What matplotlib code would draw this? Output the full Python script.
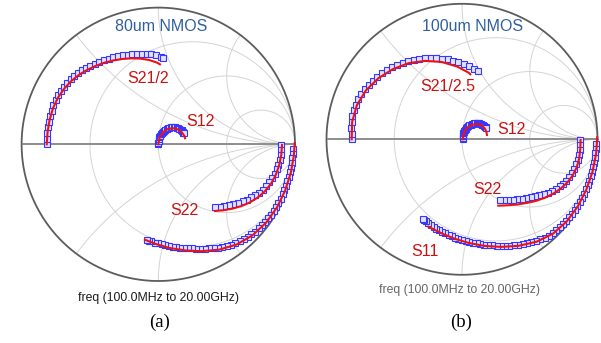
import numpy as np
import matplotlib.pyplot as plt

plt.rcParams['font.family'] = ['Liberation Sans', 'DejaVu Sans']

# ---- (a) 80um NMOS : reflection plane values (real, imag), meas = blue squares, model = red line
a_s21_meas_re = [-0.816, -0.815, -0.812, -0.807, -0.800, -0.792, -0.781, -0.768, -0.752, -0.733,
                 -0.712, -0.690, -0.666, -0.641, -0.614, -0.586, -0.557, -0.527, -0.496, -0.464,
                 -0.431, -0.398, -0.364, -0.330, -0.295, -0.260, -0.225, -0.190, -0.155, -0.120,
                 -0.085, -0.050, -0.016, 0.018, 0.037]
a_s21_meas_im = [0.000, 0.040, 0.082, 0.124, 0.166, 0.207, 0.247, 0.286, 0.323, 0.358,
                 0.391, 0.422, 0.450, 0.476, 0.500, 0.522, 0.542, 0.560, 0.576, 0.591,
                 0.604, 0.616, 0.626, 0.635, 0.643, 0.650, 0.655, 0.659, 0.662, 0.663,
                 0.662, 0.658, 0.651, 0.640, 0.630]
a_s21_model_re = [-0.816, -0.810, -0.795, -0.770, -0.735, -0.690, -0.640, -0.585, -0.525,
                  -0.462, -0.398, -0.332, -0.265, -0.198, -0.132, -0.068, -0.010, 0.012]
a_s21_model_im = [0.000, 0.090, 0.180, 0.265, 0.340, 0.405, 0.460, 0.505, 0.542,
                  0.572, 0.596, 0.613, 0.624, 0.629, 0.627, 0.617, 0.598, 0.585]

a_s12_meas_re = [0.000, 0.000, 0.002, 0.004, 0.008, 0.012, 0.018, 0.025, 0.032, 0.041,
                 0.050, 0.060, 0.070, 0.081, 0.092, 0.103, 0.114, 0.125, 0.135, 0.145,
                 0.155, 0.163, 0.170, 0.176, 0.180, 0.183, 0.185]
a_s12_meas_im = [0.000, 0.012, 0.025, 0.038, 0.050, 0.061, 0.072, 0.082, 0.092, 0.100,
                 0.107, 0.113, 0.117, 0.121, 0.123, 0.124, 0.124, 0.123, 0.121, 0.117,
                 0.113, 0.108, 0.102, 0.096, 0.090, 0.085, 0.080]
a_s12_model_re = [0.000, 0.010, 0.035, 0.070, 0.110, 0.145, 0.172, 0.190, 0.196]
a_s12_model_im = [0.000, 0.050, 0.090, 0.112, 0.118, 0.108, 0.088, 0.062, 0.044]

a_s22_meas_re = [0.900, 0.898, 0.894, 0.888, 0.879, 0.867, 0.852, 0.834, 0.813, 0.790,
                 0.765, 0.738, 0.709, 0.679, 0.648, 0.616, 0.583, 0.550, 0.516, 0.482,
                 0.448, 0.414]
a_s22_meas_im = [-0.005, -0.040, -0.076, -0.112, -0.148, -0.183, -0.217, -0.249, -0.279, -0.306,
                 -0.331, -0.353, -0.372, -0.389, -0.404, -0.417, -0.428, -0.437, -0.445, -0.451,
                 -0.456, -0.460]
a_s22_model_re = [0.905, 0.900, 0.885, 0.860, 0.825, 0.780, 0.728, 0.670, 0.608, 0.545, 0.480, 0.415]
a_s22_model_im = [-0.005, -0.075, -0.150, -0.222, -0.288, -0.343, -0.389, -0.425, -0.452, -0.470,
                  -0.482, -0.488]

a_s11_meas_re = [0.984, 0.983, 0.980, 0.975, 0.969, 0.962, 0.954, 0.944, 0.934, 0.922,
                 0.909, 0.894, 0.878, 0.861, 0.843, 0.823, 0.802, 0.780, 0.757, 0.733,
                 0.708, 0.681, 0.653, 0.624, 0.595, 0.564, 0.533, 0.501, 0.469, 0.436,
                 0.404, 0.372, 0.340, 0.308, 0.278, 0.248, 0.218, 0.189, 0.161, 0.133,
                 0.105, 0.078, 0.052, 0.026, 0.000, -0.025, -0.050, -0.068, -0.086]
a_s11_meas_im = [-0.034, -0.069, -0.103, -0.137, -0.171, -0.204, -0.238, -0.271, -0.303, -0.336,
                 -0.367, -0.398, -0.428, -0.458, -0.487, -0.514, -0.541, -0.567, -0.592, -0.615,
                 -0.638, -0.658, -0.676, -0.693, -0.709, -0.721, -0.733, -0.742, -0.750, -0.756,
                 -0.759, -0.762, -0.763, -0.764, -0.763, -0.762, -0.759, -0.758, -0.755, -0.752,
                 -0.748, -0.743, -0.737, -0.732, -0.725, -0.719, -0.711, -0.706, -0.700]
a_s11_model_re = [0.998, 0.991, 0.970, 0.928, 0.868, 0.789, 0.689, 0.573, 0.445, 0.316,
                  0.194, 0.080, -0.025, -0.098]
a_s11_model_im = [0.009, -0.087, -0.206, -0.338, -0.462, -0.573, -0.666, -0.733, -0.771, -0.782,
                  -0.776, -0.758, -0.727, -0.698]

# ---- (b) 100um NMOS
b_s21_meas_re = [-0.814, -0.815, -0.817, -0.815, -0.810, -0.799, -0.784, -0.765, -0.743, -0.717,
                 -0.689, -0.658, -0.625, -0.591, -0.554, -0.517, -0.478, -0.438, -0.398, -0.357,
                 -0.315, -0.274, -0.232, -0.190, -0.148, -0.107, -0.066, -0.026, 0.014, 0.053,
                 0.090, 0.117]
b_s21_meas_im = [0.000, 0.042, 0.085, 0.128, 0.172, 0.214, 0.255, 0.294, 0.332, 0.368,
                 0.401, 0.432, 0.460, 0.486, 0.509, 0.530, 0.547, 0.563, 0.575, 0.585,
                 0.592, 0.597, 0.599, 0.598, 0.595, 0.589, 0.580, 0.570, 0.556, 0.540,
                 0.521, 0.506]
b_s21_model_re = [-0.814, -0.811, -0.776, -0.709, -0.617, -0.510, -0.394, -0.272, -0.151,
                  -0.036, 0.050, 0.061]
b_s21_model_im = [0.000, 0.128, 0.252, 0.361, 0.451, 0.518, 0.562, 0.579, 0.571,
                  0.537, 0.491, 0.480]

b_s12_meas_re = [0.005, 0.005, 0.006, 0.008, 0.010, 0.013, 0.017, 0.022, 0.027, 0.033,
                 0.040, 0.047, 0.055, 0.063, 0.072, 0.081, 0.090, 0.099, 0.108, 0.117,
                 0.126, 0.135, 0.143, 0.151, 0.158, 0.164, 0.170, 0.175, 0.180]
b_s12_meas_im = [0.000, 0.011, 0.022, 0.033, 0.043, 0.053, 0.062, 0.071, 0.079, 0.086,
                 0.093, 0.099, 0.104, 0.108, 0.112, 0.115, 0.117, 0.118, 0.119, 0.118,
                 0.117, 0.115, 0.112, 0.108, 0.104, 0.099, 0.094, 0.089, 0.083]
b_s12_model_re = [0.005, 0.015, 0.040, 0.075, 0.112, 0.145, 0.168, 0.180, 0.184]
b_s12_model_im = [0.000, 0.050, 0.088, 0.108, 0.112, 0.102, 0.080, 0.055, 0.032]

b_s22_meas_re = [0.872, 0.871, 0.868, 0.863, 0.855, 0.844, 0.830, 0.813, 0.793, 0.771,
                 0.747, 0.721, 0.693, 0.664, 0.634, 0.603, 0.571, 0.539, 0.506, 0.473,
                 0.440, 0.407, 0.374, 0.341, 0.308, 0.280]
b_s22_meas_im = [-0.005, -0.040, -0.077, -0.115, -0.150, -0.184, -0.218, -0.250, -0.279, -0.305,
                 -0.328, -0.348, -0.365, -0.380, -0.393, -0.404, -0.413, -0.421, -0.428, -0.434,
                 -0.439, -0.443, -0.446, -0.448, -0.449, -0.449]
b_s22_model_re = [0.875, 0.873, 0.865, 0.847, 0.818, 0.778, 0.728, 0.672, 0.610, 0.545,
                  0.477, 0.408, 0.338, 0.268]
b_s22_model_im = [-0.005, -0.070, -0.140, -0.205, -0.265, -0.318, -0.364, -0.402, -0.432, -0.455,
                  -0.470, -0.481, -0.487, -0.490]

b_s11_meas_re = [0.989, 0.988, 0.985, 0.980, 0.974, 0.967, 0.959, 0.949, 0.939, 0.927,
                 0.914, 0.900, 0.885, 0.869, 0.851, 0.833, 0.813, 0.792, 0.770, 0.746,
                 0.722, 0.695, 0.668, 0.639, 0.609, 0.577, 0.545, 0.512, 0.480, 0.447,
                 0.414, 0.381, 0.349, 0.317, 0.286, 0.255, 0.224, 0.195, 0.165, 0.136,
                 0.108, 0.080, 0.053, 0.026, 0.000, -0.026, -0.051, -0.075, -0.099, -0.123,
                 -0.145, -0.168, -0.189, -0.210, -0.230, -0.250, -0.268, -0.278, -0.287]
b_s11_meas_im = [-0.035, -0.069, -0.103, -0.138, -0.172, -0.206, -0.239, -0.272, -0.305, -0.337,
                 -0.369, -0.401, -0.432, -0.462, -0.492, -0.520, -0.549, -0.575, -0.602, -0.626,
                 -0.650, -0.671, -0.692, -0.710, -0.726, -0.739, -0.750, -0.759, -0.767, -0.774,
                 -0.779, -0.782, -0.784, -0.785, -0.785, -0.784, -0.782, -0.781, -0.778, -0.774,
                 -0.768, -0.763, -0.757, -0.751, -0.743, -0.735, -0.725, -0.716, -0.706, -0.695,
                 -0.684, -0.672, -0.659, -0.646, -0.632, -0.618, -0.603, -0.596, -0.589]
b_s11_model_re = [0.998, 0.990, 0.963, 0.918, 0.855, 0.774, 0.672, 0.550, 0.418, 0.289,
                  0.167, 0.054, -0.051, -0.148, -0.248]
b_s11_model_im = [0.015, -0.104, -0.240, -0.371, -0.494, -0.605, -0.696, -0.756, -0.786, -0.794,
                  -0.787, -0.766, -0.735, -0.695, -0.645]

r_circles = [1/3, 1, 3]
x_arcs = [0.5, 1, 2]


def smith_grid(ax):
    t = np.linspace(0, 2 * np.pi, 3000)
    for r in r_circles:
        c, rad = r / (1 + r), 1 / (1 + r)
        ax.plot(c + rad * np.cos(t), rad * np.sin(t), color='#d4d4d4', lw=0.7, zorder=1)
    for x in x_arcs:
        for s in (1, -1):
            px = 1 + np.cos(t) / x
            py = s / x + np.sin(t) / x
            inside = px**2 + py**2 <= 1.0
            ax.plot(np.where(inside, px, np.nan), np.where(inside, py, np.nan),
                    color='#d4d4d4', lw=0.7, zorder=1)
    ax.plot(np.cos(t), np.sin(t), color='#5c5c5c', lw=1.3, zorder=2, clip_on=False)
    ax.plot([-1, 1], [0, 0], color='#858585', lw=1.3, zorder=2)


def draw_pair(ax, mre, mim, fre, fim):
    ax.plot(mre, mim, ls='none', marker='s', ms=3.8, mfc='#e2e2ff', mec='#3636ff',
            mew=0.8, zorder=3, clip_on=False)
    ax.plot(fre, fim, color='#ee1111', lw=1.5, zorder=4, clip_on=False)


fig = plt.figure(figsize=(6.01, 3.43), dpi=100)

axa = fig.add_axes([21.6 / 601, (343 - 281.0) / 343, 273.4 / 601, 273.4 / 343])
axb = fig.add_axes([326.5 / 601, (343 - 274.8) / 343, 271.0 / 601, 271.0 / 343])

for ax in (axa, axb):
    ax.set_xlim(-1, 1)
    ax.set_ylim(-1, 1)
    ax.axis('off')
    smith_grid(ax)

draw_pair(axa, a_s21_meas_re, a_s21_meas_im, a_s21_model_re, a_s21_model_im)
draw_pair(axa, a_s12_meas_re, a_s12_meas_im, a_s12_model_re, a_s12_model_im)
draw_pair(axa, a_s22_meas_re, a_s22_meas_im, a_s22_model_re, a_s22_model_im)
draw_pair(axa, a_s11_meas_re, a_s11_meas_im, a_s11_model_re, a_s11_model_im)

draw_pair(axb, b_s21_meas_re, b_s21_meas_im, b_s21_model_re, b_s21_model_im)
draw_pair(axb, b_s12_meas_re, b_s12_meas_im, b_s12_model_re, b_s12_model_im)
draw_pair(axb, b_s22_meas_re, b_s22_meas_im, b_s22_model_re, b_s22_model_im)
draw_pair(axb, b_s11_meas_re, b_s11_meas_im, b_s11_model_re, b_s11_model_im)

red = '#cc1111'
blue = '#2f5f9e'
fs = 11.5

axa.text(0.02, 0.862, '80um NMOS', color=blue, fontsize=fs, ha='center', va='center')
axa.text(-0.075, 0.478, 'S21/2', color=red, fontsize=fs, ha='center', va='center')
axa.text(0.312, 0.167, 'S12', color=red, fontsize=fs, ha='center', va='center')
axa.text(0.188, -0.481, 'S22', color=red, fontsize=fs, ha='center', va='center')
axa.text(0.005, -1.125, 'freq (100.0MHz to 20.00GHz)', color='#1a1a1a', fontsize=8.8,
         ha='center', va='center')
axa.text(0.012, -1.30, '(a)', color='black', fontsize=13.5, family='Liberation Serif',
         ha='center', va='center')

axb.text(0.077, 0.836, '100um NMOS', color=blue, fontsize=fs, ha='center', va='center')
axb.text(-0.107, 0.393, 'S21/2.5', color=red, fontsize=fs, ha='center', va='center')
axb.text(0.367, 0.069, 'S12', color=red, fontsize=fs, ha='center', va='center')
axb.text(0.188, -0.374, 'S22', color=red, fontsize=fs, ha='center', va='center')
axb.text(-0.273, -0.828, 'S11', color=red, fontsize=fs, ha='center', va='center')
axb.text(-0.015, -1.112, 'freq (100.0MHz to 20.00GHz)', color='#666666', fontsize=8.8,
         ha='center', va='center')
axb.text(-0.007, -1.348, '(b)', color='black', fontsize=13.5, family='Liberation Serif',
         ha='center', va='center')

fig.savefig('out.png', dpi=100, facecolor='white')
